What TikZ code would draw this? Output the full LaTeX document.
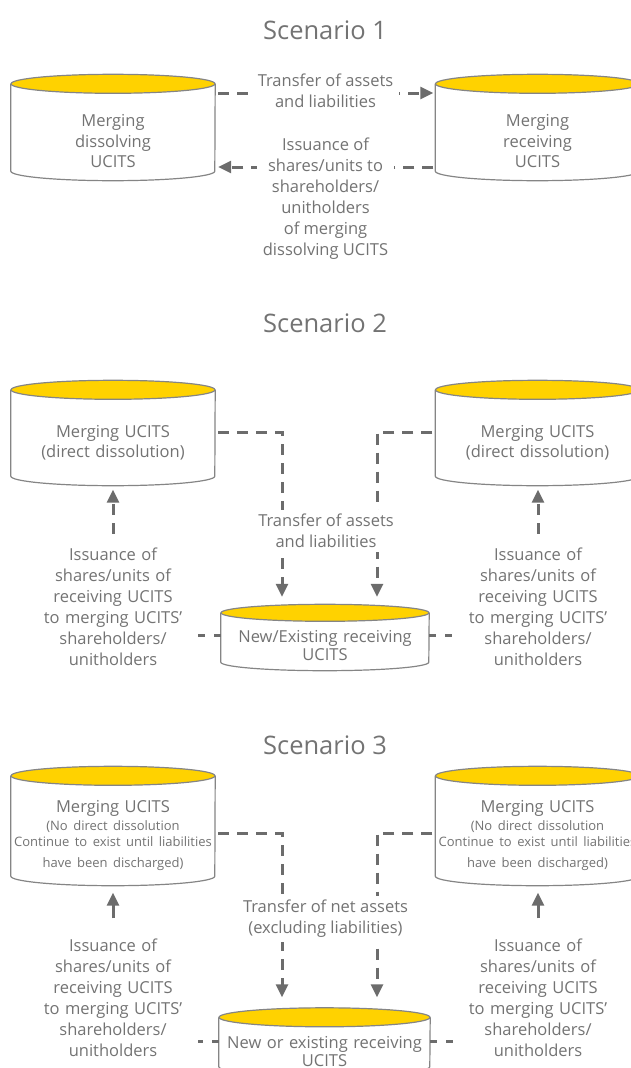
\documentclass[tikz,border=0pt]{standalone}
\usepackage{fontspec}
\setmainfont{Open Sans}
\usetikzlibrary{arrows.meta,calc}
\pgfdeclarelayer{back}
\pgfsetlayers{back,main}

\definecolor{eyyellow}{HTML}{FFD200}
\definecolor{txtgray}{HTML}{737373}
\definecolor{linegray}{HTML}{6C6C6C}
\definecolor{rimgray}{HTML}{858585}

\newcommand\drumsmall{\fontsize{13pt}{16.5pt}\selectfont}

% cylinder drawn around a named node: #1 node, #2 ellipse y radius, #3 ellipse x radius
\newcommand\drum[3]{%
  \begin{pgfonlayer}{back}
    \path[drumline, fill=white] ([yshift=#2pt]#1.north west) -- ([yshift=#2pt]#1.south west)
      arc[start angle=180, end angle=360, x radius=#3pt, y radius=#2pt]
      -- ([yshift=#2pt]#1.north east);
    \path[drumline, fill=eyyellow] ([yshift=#2pt]#1.north) ellipse[x radius=#3pt, y radius=#2pt];
  \end{pgfonlayer}}

\tikzset{
  drumline/.style={draw=rimgray, line width=1.2pt},
  drumbox/.style={inner sep=0pt, text width=200pt, align=center, text=txtgray,
    font=\fontsize{16.5pt}{20.5pt}\selectfont},
  caption/.style={align=center, text=txtgray, font=\fontsize{16.5pt}{21pt}\selectfont},
  title/.style={text=txtgray, font=\fontsize{25.5pt}{30pt}\selectfont, anchor=base},
  issue/.style={caption, text width=150pt, inner xsep=10pt, inner ysep=14pt},
  label/.style={caption, fill=white, inner xsep=6pt, inner ysep=4pt},
  link/.style={draw=linegray, line width=3pt, dash pattern=on 7pt off 9pt},
  flow/.style={draw=linegray, line width=3pt, dash pattern=on 11pt off 8pt,
    -{Triangle[length=13pt,width=12pt]}},
}

\begin{document}
\begin{tikzpicture}[x=1pt, y=-1pt]
\useasboundingbox (0,0) rectangle (630,1068);
\clip (0,0) rectangle (630,1068);

% ---------------- Scenario 1 ----------------
\node[title] (s1) at (325,39) {Scenario 1};
\node[drumbox, minimum width=204pt, minimum height=87pt] (l1) at (113,137)
  {\rule{0pt}{21pt}Merging\\dissolving\\UCITS};
\drum{l1}{9.5}{102}
\node[drumbox, minimum width=204pt, minimum height=87pt] (r1) at (537.5,137)
  {\rule{0pt}{21pt}Merging\\receiving\\UCITS};
\drum{r1}{9.5}{102}

\draw[flow, shorten <=3pt, shorten >=2pt] ([yshift=44pt]l1.east) -- ([yshift=44pt]r1.west);
\draw[flow, shorten <=2pt, shorten >=3pt] ([yshift=-30pt]r1.west) -- ([yshift=-30pt]l1.east);

\node[label] (t1) at (325.5,91) {Transfer of assets\\and liabilities};
\node[label, inner ysep=2pt] (i1) at (325.5,199)
  {Issuance of\\shares/units to\\shareholders/\\unitholders\\of merging\\dissolving UCITS};

% ---------------- Scenario 2 ----------------
\node[title] (s2) at (325,332) {Scenario 2};
\node[drumbox, minimum width=204pt, minimum height=86pt] (l2) at (113,442.5)
  {Merging UCITS\\(direct dissolution)};
\drum{l2}{9.5}{102}
\node[drumbox, minimum width=204pt, minimum height=86pt] (r2) at (537.5,442.5)
  {Merging UCITS\\(direct dissolution)};
\drum{r2}{9.5}{102}
\node[drumbox, minimum width=208pt, minimum height=49pt, font=\fontsize{16.5pt}{18pt}\selectfont]
  (b2) at (325,646) {New/Existing receiving\\UCITS};
\drum{b2}{8.5}{104}

\node[issue] (is2l) at (113,607)
  {Issuance of\\shares/units of\\receiving UCITS\\to merging UCITS'\\shareholders/\\unitholders};
\node[issue] (is2r) at (538,607)
  {Issuance of\\shares/units of\\receiving UCITS\\to merging UCITS'\\shareholders/\\unitholders};

\draw[flow, shorten <=3pt] ([yshift=10.5pt]l2.east) -| ([xshift=-43pt,yshift=24.5pt]b2.north);
\draw[flow, shorten <=3pt] ([yshift=10.5pt]r2.west) -| ([xshift=52pt,yshift=24.5pt]b2.north);
\draw[flow, shorten >=4pt] (is2l.north) -- (l2.south);
\draw[flow, shorten >=4pt] (is2r.north) -- (r2.south -| is2r.north);
\coordinate (b2w) at ([yshift=11pt]b2.west);
\coordinate (b2e) at ([yshift=11pt]b2.east);
\draw[link] (b2w) -- (b2w -| is2l.east);
\draw[link] (b2e) -- (b2e -| is2r.west);

\node[label] (t2) at (326,531) {Transfer of assets\\and liabilities};

% ---------------- Scenario 3 ----------------
\node[title] (s3) at (325,754) {Scenario 3};
\node[drumbox, minimum width=204pt, minimum height=100pt] (l3) at (113,835.5)
  {Merging UCITS\\[1pt]\drumsmall (No direct dissolution\\Continue to exist until liabilities\\have been discharged)};
\drum{l3}{9.5}{102}
\node[drumbox, minimum width=204pt, minimum height=100pt] (r3) at (537.5,835.5)
  {Merging UCITS\\[1pt]\drumsmall (No direct dissolution\\Continue to exist until liabilities\\have been discharged)};
\drum{r3}{9.5}{102}
\node[drumbox, minimum width=211pt, minimum height=49pt, font=\fontsize{16.5pt}{18pt}\selectfont]
  (b3) at (324.5,1051.5) {New or existing receiving\\UCITS};
\drum{b3}{9.5}{105.5}

\node[issue] (is3l) at (113,997.5)
  {Issuance of\\shares/units of\\receiving UCITS\\to merging UCITS'\\shareholders/\\unitholders};
\node[issue] (is3r) at (538,997.5)
  {Issuance of\\shares/units of\\receiving UCITS\\to merging UCITS'\\shareholders/\\unitholders};

\draw[flow, shorten <=3pt] ([yshift=2.5pt]l3.east) -| ([xshift=-42.5pt,yshift=29.5pt]b3.north);
\draw[flow, shorten <=3pt] ([yshift=2.5pt]r3.west) -| ([xshift=52.5pt,yshift=29.5pt]b3.north);
\draw[flow, solid, shorten <=6pt, shorten >=7pt] (is3l.north) -- (l3.south);
\draw[flow, solid, shorten <=6pt, shorten >=7pt] (is3r.north) -- (r3.south -| is3r.north);
\coordinate (b3w) at ([yshift=10.5pt]b3.west);
\coordinate (b3e) at ([yshift=10.5pt]b3.east);
\draw[link] (b3w) -- (b3w -| is3l.east);
\draw[link] (b3e) -- (b3e -| is3r.west);

\node[label] (t3) at (325.5,919) {Transfer of net assets\\(excluding liabilities)};
\end{tikzpicture}
\end{document}
